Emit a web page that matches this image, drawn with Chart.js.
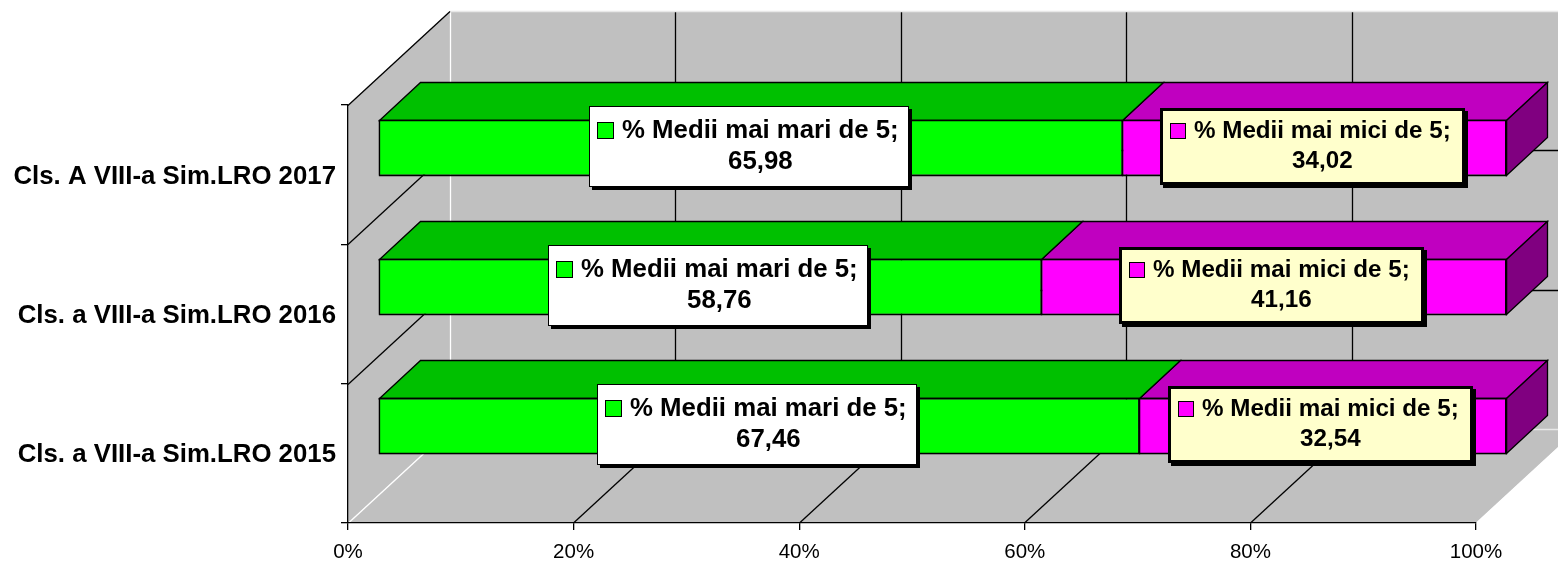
<!DOCTYPE html>
<html>
<head>
<meta charset="utf-8">
<script src="https://cdn.jsdelivr.net/npm/chart.js@4"></script>
<style>
    html, body { margin: 0; padding: 0; background: #fff; }
    canvas { display: block; }
</style>
</head>
<body>
<canvas id="chart" width="1558" height="561"></canvas>
<script>
const categories = ['Cls. A VIII-a Sim.LRO 2017', 'Cls. a VIII-a Sim.LRO 2016', 'Cls. a VIII-a Sim.LRO 2015'];
const seriesNames = ['% Medii mai mari de 5', '% Medii mai mici de 5'];
const peste5 = [65.98, 58.76, 67.46];
const sub5 = [34.02, 41.16, 32.54];
const tickValues = [0, 20, 40, 60, 80, 100];

// 100% stacked: every bar fills the axis even when the two values do not add up to 100
const share = (arr, other) => arr.map((v, i) => v / (v + other[i]) * 100);
const rawValues = [peste5, sub5];

// 3D look: wall depth, bar depth and how far the bars sit from the front plane
const WALL = { dx: 102, dy: 94 };
const BAR = { dx: 41, dy: 38, shiftX: 30, shiftY: -27 };
const FACES = [
    { front: '#00FF00', top: '#00C000', side: '#008000' },
    { front: '#FF00FF', top: '#C000C0', side: '#800080' }
];
const LABELS = [
    { fill: '#FFFFFF', border: 1, font: 'bold 25.8px "Liberation Sans"', padL: 8, padR: 10, key: 17, gap: 8, height: 81, line: 31 },
    { fill: '#FFFFCC', border: 3, font: 'bold 24.2px "Liberation Sans"', padL: 10, padR: 14, key: 16, gap: 8, height: 77, line: 30 }
];
const EDGE_WIDTH = 1.3;

function poly(ctx, pts, fill, stroke) {
    ctx.beginPath();
    pts.forEach((p, i) => i ? ctx.lineTo(p[0], p[1]) : ctx.moveTo(p[0], p[1]));
    ctx.closePath();
    if (fill) { ctx.fillStyle = fill; ctx.fill(); }
    if (stroke) { ctx.strokeStyle = stroke; ctx.lineWidth = EDGE_WIDTH; ctx.stroke(); }
}

function line(ctx, x1, y1, x2, y2, color) {
    ctx.beginPath();
    ctx.moveTo(x1, y1);
    ctx.lineTo(x2, y2);
    ctx.strokeStyle = color;
    ctx.lineWidth = EDGE_WIDTH;
    ctx.stroke();
}

// back wall, left wall, floor and their gridlines
const wallsPlugin = {
    id: 'walls',
    beforeDraw(chart) {
        const { ctx, chartArea: a, scales } = chart;
        const dx = WALL.dx, dy = WALL.dy;
        ctx.save();
        poly(ctx, [[a.left + dx, a.top - dy], [a.right + dx, a.top - dy], [a.right + dx, a.bottom - dy], [a.left + dx, a.bottom - dy]], '#C0C0C0');
        poly(ctx, [[a.left, a.top], [a.left + dx, a.top - dy], [a.left + dx, a.bottom - dy], [a.left, a.bottom]], '#C0C0C0');
        poly(ctx, [[a.left, a.bottom], [a.left + dx, a.bottom - dy], [a.right + dx, a.bottom - dy], [a.right, a.bottom]], '#C0C0C0');

        tickValues.forEach(v => {
            const x = Math.floor(scales.x.getPixelForValue(v)) + 0.5;
            const edge = v === tickValues[0] || v === tickValues[tickValues.length - 1];
            const color = edge ? '#FFFFFF' : '#000000';
            line(ctx, x, a.bottom, x + dx, a.bottom - dy, color);
            line(ctx, x + dx, a.top - dy, x + dx, a.bottom - dy, color);
        });
        const band = (a.bottom - a.top) / categories.length;
        for (let i = 0; i <= categories.length; i++) {
            const y = Math.round(a.top + band * i) + 0.5;
            const edge = i === 0 || i === categories.length;
            line(ctx, a.left + dx, y - dy, a.right + dx, y - dy, edge ? '#E8E8E8' : '#000000');
            if (i < categories.length) line(ctx, a.left, y, a.left + dx, y - dy, '#000000');
        }
        ctx.restore();
    }
};

function barBox(bar) {
    const p = bar.getProps(['x', 'y', 'base', 'height'], true);
    return {
        top: Math.round(p.y - p.height / 2) + 0.5,
        bottom: Math.round(p.y + p.height / 2) - 0.5,
        l: Math.round(p.base) + 0.5,
        r: Math.round(p.x) + 0.5
    };
}

// top and side faces come from the bar elements, the front face is the bar itself
const barDepthPlugin = {
    id: 'barDepth',
    beforeDatasetDraw(chart, args) {
        const { ctx } = chart;
        const faces = FACES[args.index];
        const last = args.index === chart.data.datasets.length - 1;
        ctx.save();
        ctx.translate(BAR.shiftX, BAR.shiftY);
        args.meta.data.forEach(bar => {
            const { top, bottom, l, r } = barBox(bar);
            poly(ctx, [[l, top], [l + BAR.dx, top - BAR.dy], [r + BAR.dx, top - BAR.dy], [r, top]], faces.top, '#000000');
            if (last) {
                poly(ctx, [[r, top], [r + BAR.dx, top - BAR.dy], [r + BAR.dx, bottom - BAR.dy], [r, bottom]], faces.side, '#000000');
            }
        });
        ctx.restore();
        ctx.save();
        ctx.translate(BAR.shiftX, BAR.shiftY);
    },
    afterDatasetDraw(chart, args) {
        const { ctx } = chart;
        // crisp outline over the front face
        args.meta.data.forEach(bar => {
            const { top, bottom, l, r } = barBox(bar);
            poly(ctx, [[l, top], [r, top], [r, bottom], [l, bottom]], null, '#000000');
        });
        ctx.restore();
    }
};

// excel style data labels: legend key, series name and value in a box with a shadow
const boxLabelsPlugin = {
    id: 'boxLabels',
    afterDatasetsDraw(chart) {
        const { ctx } = chart;
        chart.data.datasets.forEach((ds, d) => {
            const s = LABELS[d];
            chart.getDatasetMeta(d).data.forEach((bar, i) => {
                const p = bar.getProps(['x', 'y', 'base'], true);
                const first = seriesNames[d] + ';';
                const second = rawValues[d][i].toFixed(2).replace('.', ',');
                ctx.save();
                ctx.font = s.font;
                const tw = ctx.measureText(first).width;
                const w = s.padL + s.key + s.gap + tw + s.padR;
                const cx = (p.base + p.x) / 2 + BAR.shiftX - 2;
                const cy = p.y + BAR.shiftY - 1;
                const left = Math.round(cx - w / 2), top = Math.floor(cy - s.height / 2);
                const width = Math.round(w), h = s.height;

                ctx.fillStyle = '#000000';
                ctx.fillRect(left + 3, top + 3, width, h);
                ctx.fillRect(left, top, width, h);
                ctx.fillStyle = s.fill;
                ctx.fillRect(left + s.border, top + s.border, width - s.border * 2, h - s.border * 2);

                const mid = top + h / 2;
                ctx.fillStyle = FACES[d].front;
                ctx.strokeStyle = '#000000';
                ctx.lineWidth = 1;
                const kx = left + s.padL + 0.5, ky = Math.round(mid - s.line / 2 - s.key / 2) - 1 + 0.5;
                ctx.fillRect(kx, ky, s.key - 1, s.key - 1);
                ctx.strokeRect(kx, ky, s.key - 1, s.key - 1);

                const tx = left + s.padL + s.key + s.gap;
                ctx.fillStyle = '#000000';
                ctx.textBaseline = 'middle';
                ctx.textAlign = 'left';
                ctx.fillText(first, tx, mid - s.line / 2);
                ctx.textAlign = 'center';
                ctx.fillText(second, tx + tw / 2, mid + s.line / 2);
                ctx.restore();
            });
        });
    }
};

new Chart(document.getElementById('chart').getContext('2d'), {
    type: 'bar',
    data: {
        labels: categories,
        datasets: [
            { label: seriesNames[0], data: share(peste5, sub5), backgroundColor: FACES[0].front },
            { label: seriesNames[1], data: share(sub5, peste5), backgroundColor: FACES[1].front }
        ].map(ds => Object.assign(ds, {
            borderColor: '#000000',
            borderWidth: 1,
            borderSkipped: false,
            categoryPercentage: 1,
            barPercentage: 0.4
        }))
    },
    options: {
        indexAxis: 'y',
        responsive: false,
        animation: false,
        devicePixelRatio: 1,
        layout: { padding: { top: 105, right: 82, left: 0, bottom: 0 } },
        plugins: { legend: { display: false }, tooltip: { enabled: false }, title: { display: false } },
        scales: {
            x: {
                stacked: true,
                min: 0,
                max: 100,
                afterFit(scale) { scale.height = 38; },
                afterBuildTicks(scale) { scale.ticks = tickValues.map(v => ({ value: v })); },
                grid: { drawOnChartArea: false, drawTicks: true, tickLength: 7, color: '#000000', lineWidth: EDGE_WIDTH },
                border: { color: '#000000', width: EDGE_WIDTH },
                ticks: {
                    callback: v => v + '%',
                    color: '#000000',
                    font: { family: '"Liberation Sans"', size: 20.5 },
                    padding: 10,
                    maxRotation: 0
                }
            },
            y: {
                stacked: true,
                afterFit(scale) { scale.width = 348; },
                // the reference labels sit a pixel below the middle of their band
                afterUpdate(scale) {
                    const drawLabels = scale.drawLabels;
                    scale.drawLabels = function (area) {
                        scale.ctx.save();
                        scale.ctx.translate(0, 1);
                        drawLabels.call(scale, area);
                        scale.ctx.restore();
                    };
                },
                grid: { drawOnChartArea: false, drawTicks: true, tickLength: 7, color: '#000000', lineWidth: EDGE_WIDTH },
                border: { color: '#000000', width: EDGE_WIDTH },
                ticks: {
                    color: '#000000',
                    font: { family: '"Liberation Sans"', size: 25.8, weight: 'bold' },
                    padding: 5,
                    autoSkip: false
                }
            }
        }
    },
    plugins: [wallsPlugin, barDepthPlugin, boxLabelsPlugin]
});
</script>
</body>
</html>
